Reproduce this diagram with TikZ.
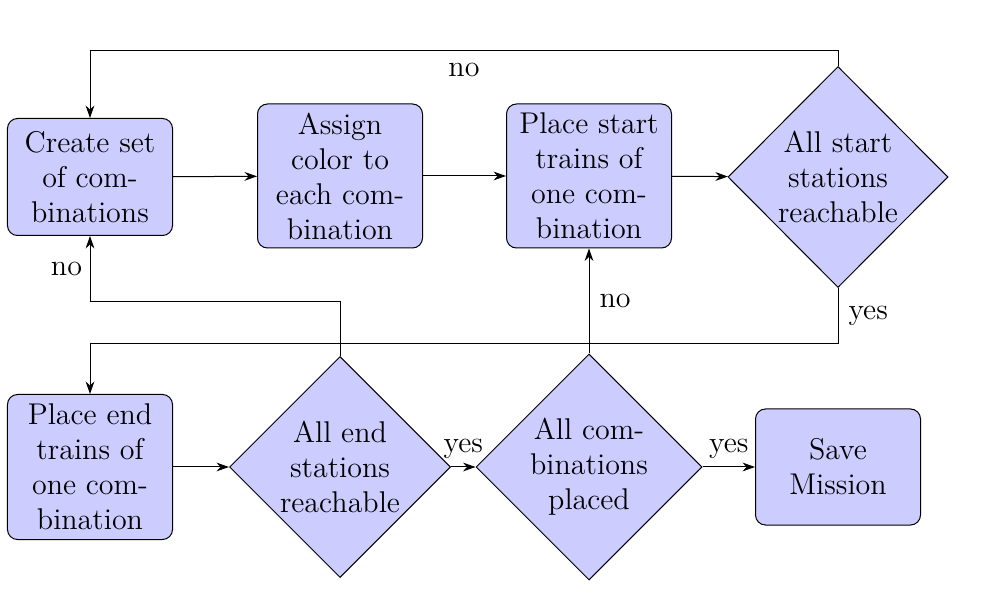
\documentclass[tikz,border=0pt]{standalone}
\usetikzlibrary{shapes.geometric,arrows.meta}
\begin{document}
\begin{tikzpicture}[x=0.4pt,y=-0.4pt,
  every node/.style={font=\fontsize{12}{14}\selectfont},
  box/.style={draw, fill=blue!20, rounded corners=4pt, align=center, minimum width=66pt, inner sep=2pt},
  dec/.style={draw, fill=blue!20, diamond, align=center, inner sep=0pt},
  arr/.style={-{Stealth[length=5pt,width=3.5pt]}, line width=0.4pt},
  lbl/.style={inner sep=3pt}]
\useasboundingbox (0,0) rectangle (987,605);
\node[box, minimum height=46.8pt] (create) at (90,177) {Create set\\of com-\\binations};
\node[box, minimum height=57.6pt] (assign) at (340,176) {Assign\\color to\\each com-\\bination};
\node[box, minimum height=57.6pt] (pstart) at (589,176) {Place start\\trains of\\one com-\\bination};
\node[dec, minimum width=88pt, minimum height=88.4pt] (d1) at (838,177) {All start\\stations\\reachable};
\node[box, minimum height=58pt] (pend) at (90,467) {Place end\\trains of\\one com-\\bination};
\node[dec, minimum width=88.4pt, minimum height=88.4pt] (d2) at (340,467) {All end\\stations\\reachable};
\node[dec, minimum width=90.4pt, minimum height=90.4pt] (d3) at (589,467) {All com-\\binations\\placed};
\node[box, minimum height=46.4pt] (save) at (838,467) {Save\\Mission};

\draw[arr] (create) -- (assign);
\draw[arr] (assign) -- (pstart);
\draw[arr] (pstart) -- (d1);
\draw[arr] (d1.north) -- ++(0,-15) -| node[pos=0.25, below, inner sep=4.5pt] {no} (create.north);
\draw[arr] (d1.south) -- node[pos=0.5, right, inner sep=4pt] {yes} ++(0,55) -| (pend.north);
\draw[arr] (pend) -- (d2);
\draw[arr] (d2.north) -- ++(0,-54) -| node[pos=0.75, left, lbl] {no} (create.south);
\draw[arr] (d2.east) -- node[above, lbl] {yes} (d3.west);
\draw[arr] (d3.north) -- node[right, inner sep=4pt] {no} (pstart.south);
\draw[arr] (d3.east) -- node[above, lbl] {yes} (save.west);
\end{tikzpicture}
\end{document}
